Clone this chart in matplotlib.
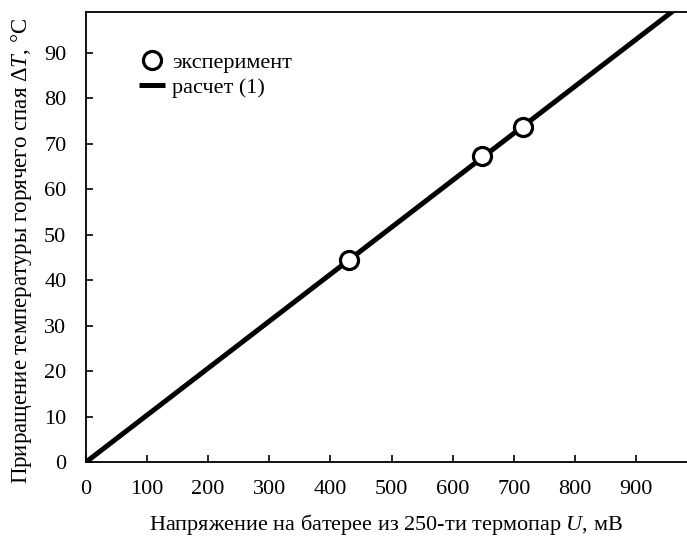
import matplotlib
matplotlib.use("Agg")
import matplotlib.pyplot as plt

plt.rcParams['font.family'] = ['Liberation Serif', 'DejaVu Serif']
plt.rcParams['mathtext.fontset'] = 'custom'
plt.rcParams['mathtext.rm'] = 'Liberation Serif'
plt.rcParams['mathtext.it'] = 'Liberation Serif:italic'

# Data
exp_U = [430, 648, 715]          # mV
exp_T = [44.4, 67.2, 73.7]       # °C
calc_U = [0, 1000]               # mV
calc_T = [0, 103.3]              # °C
x_ticks = [0, 100, 200, 300, 400, 500, 600, 700, 800, 900]
y_ticks = [0, 10, 20, 30, 40, 50, 60, 70, 80, 90]

fig = plt.figure(figsize=(6.87, 5.38), dpi=100)
ax = fig.add_axes([0.125, 0.141, 0.875, 0.837])

ax.plot(calc_U, calc_T, color='black', lw=3.6, solid_capstyle='butt',
        label='расчет (1)', zorder=2)
ax.plot(exp_U, exp_T, linestyle='none', marker='o', markersize=13,
        markerfacecolor='white', markeredgecolor='black', markeredgewidth=2.3,
        label='эксперимент', zorder=3)

ax.set_xlim(0, 983)
ax.set_ylim(0, 99)
ax.set_xticks(x_ticks)
ax.set_yticks(y_ticks)
ax.tick_params(direction='in', length=5, width=1.2, labelsize=16)
ax.tick_params(axis='x', pad=13)
ax.tick_params(axis='y', pad=14)
for s in ['left', 'bottom', 'top']:
    ax.spines[s].set_linewidth(1.3)
ax.spines['right'].set_visible(False)

ax.set_xlabel('Напряжение на батерее из 250-ти термопар $\\mathit{U}$, мВ',
              fontsize=16, labelpad=9)
ax.set_ylabel('Приращение температуры горячего спая Δ$\\mathit{T}$, °C',
              fontsize=16.5)
ax.yaxis.set_label_coords(-0.087, 0.468)

h, l = ax.get_legend_handles_labels()
ax.legend([h[1], h[0]], [l[1], l[0]], loc='upper left',
          bbox_to_anchor=(0.073, 0.93), frameon=False, fontsize=16,
          handlelength=1.17, handletextpad=0.35, labelspacing=0.2,
          borderaxespad=0)

fig.savefig('out.png', dpi=100)
